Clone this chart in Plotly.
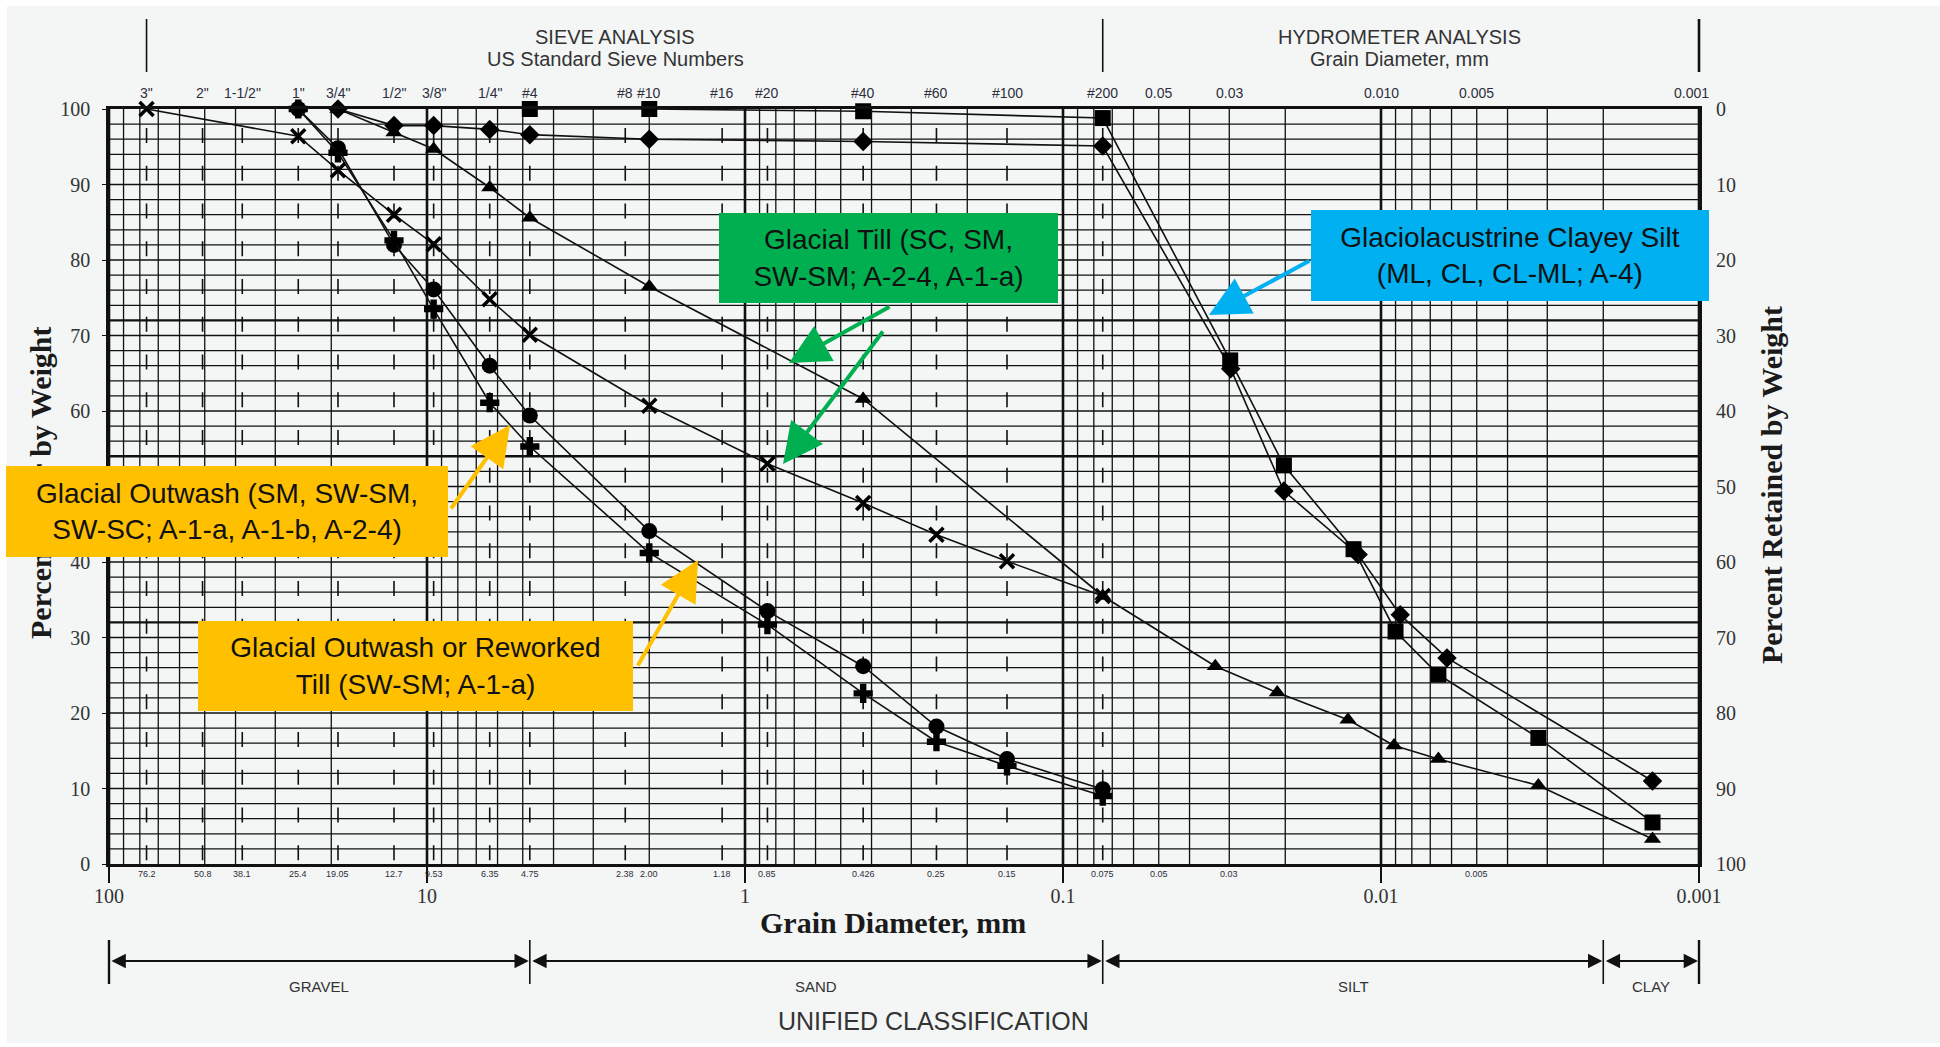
import math
import plotly.graph_objects as go

# ---------------- data ----------------
sieve_names = ['3"', '2"', '1-1/2"', '1"', '3/4"', '1/2"', '3/8"', '1/4"', '#4', '#8', '#10',
               '#16', '#20', '#40', '#60', '#100', '#200']
sieve_mm = [76.2, 50.8, 38.1, 25.4, 19.05, 12.7, 9.53, 6.35, 4.75, 2.38, 2.00,
            1.18, 0.85, 0.425, 0.25, 0.15, 0.075]
sieve_mm_text = ['76.2', '50.8', '38.1', '25.4', '19.05', '12.7', '9.53', '6.35', '4.75', '2.38', '2.00',
                 '1.18', '0.85', '0.426', '0.25', '0.15', '0.075']
hydro_top_mm = [0.05, 0.03, 0.01, 0.005, 0.001]
hydro_top_text = ['0.05', '0.03', '0.010', '0.005', '0.001']
hydro_bottom_mm = [0.05, 0.03, 0.005]
hydro_bottom_text = ['0.05', '0.03', '0.005']
decade_mm = [100, 10, 1, 0.1, 0.01, 0.001]
decade_text = ['100', '10', '1', '0.1', '0.01', '0.001']
pct_ticks = [0, 10, 20, 30, 40, 50, 60, 70, 80, 90, 100]
# the left "50" is hidden behind the outwash callout in the original
finer_text = ['0', '10', '20', '30', '40', '', '60', '70', '80', '90', '100']
retained_text = ['100', '90', '80', '70', '60', '50', '40', '30', '20', '10', '0']

class_names = ['GRAVEL', 'SAND', 'SILT', 'CLAY']
class_bounds_mm = [100, 4.75, 0.075, 0.002, 0.001]

# series (grain size mm, percent finer)
circle_mm = [25.4, 19.05, 12.7, 9.53, 6.35, 4.75, 2.00, 0.85, 0.425, 0.25, 0.15, 0.075]
circle_pct = [100, 94.8, 82.0, 76.1, 66.0, 59.4, 44.1, 33.5, 26.2, 18.2, 13.9, 9.9]

plus_mm = [25.4, 19.05, 12.7, 9.53, 6.35, 4.75, 2.00, 0.85, 0.425, 0.25, 0.15, 0.075]
plus_pct = [100, 94.2, 82.6, 73.5, 61.1, 55.3, 41.2, 31.7, 22.6, 16.2, 13.0, 9.0]

cross_mm = [76.2, 25.4, 19.05, 12.7, 9.53, 6.35, 4.75, 2.00, 0.85, 0.425, 0.25, 0.15, 0.075]
cross_pct = [100, 96.4, 91.9, 86.0, 82.1, 74.8, 70.1, 60.7, 53.0, 47.8, 43.6, 40.1, 35.5]

tri_mm = [19.05, 12.7, 9.53, 6.35, 4.75, 2.00, 0.425, 0.075, 0.0332, 0.0212, 0.0127, 0.0091,
          0.0066, 0.0032, 0.0014]
tri_pct = [100, 96.9, 94.7, 89.6, 85.6, 76.5, 61.6, 35.5, 26.2, 22.7, 19.1, 15.7, 13.9, 10.4, 3.3]

dia_mm = [19.05, 12.7, 9.53, 6.35, 4.75, 2.00, 0.425, 0.075, 0.0297, 0.0202, 0.0118, 0.0087,
          0.0062, 0.0014]
dia_pct = [100, 97.8, 97.8, 97.3, 96.6, 96.0, 95.7, 95.1, 65.6, 49.4, 41.0, 33.0, 27.3, 11.0]

sq_mm = [4.75, 2.00, 0.425, 0.075, 0.0298, 0.0202, 0.0122, 0.0090, 0.0066, 0.0032, 0.0014]
sq_pct = [100, 100, 99.7, 98.8, 66.7, 52.8, 41.7, 30.8, 25.1, 16.7, 5.5]

# ---------------- geometry helpers ----------------
W, H = 1940, 1047
PL, PR, PT, PB = 109, 1699, 109, 864
PW, PH = PR - PL, PB - PT
BG = '#f4f6f6'
INK = '#111111'


def px(xp):
    return (xp - PL) / PW


def py(yp):
    return (PB - yp) / PH


def fx(mm):
    return (2 - math.log10(mm)) / 5


fig = go.Figure()

# ---------------- grid ----------------
minor_x = [k * 10.0 ** e for e in range(-3, 2) for k in range(2, 10)]
major_x = [10.0 ** e for e in range(-3, 3)]
dashed_x = [v for v in sieve_mm if v not in minor_x and v not in major_x]
minor_y = [v for v in range(2, 100, 2) if v not in (32, 54, 72)]
major_y = [32, 54, 72]


def vl(vals, y0, y1):
    xs, ys = [], []
    for v in vals:
        xs += [v, v, None]
        ys += [y0, y1, None]
    return xs, ys


def hl(vals):
    xs, ys = [], []
    for v in vals:
        xs += [100, 0.001, None]
        ys += [v, v, None]
    return xs, ys


for (xs, ys), w, dash in [
    (vl(minor_x, 0, 100), 1.3, 'solid'),
    (vl(major_x, 0, 100), 2.6, 'solid'),
    (vl(dashed_x, 97.5, 0), 1.6, '15px,22.75px'),
    (hl(minor_y), 1.3, 'solid'),
    (hl(major_y), 2.4, 'solid'),
]:
    fig.add_trace(go.Scatter(x=xs, y=ys, mode='lines', line=dict(color=INK, width=w, dash=dash),
                             hoverinfo='skip', showlegend=False, connectgaps=False))

# ---------------- series ----------------
series = [
    (circle_mm, circle_pct, dict(symbol='circle', size=16, color='#000')),
    (plus_mm, plus_pct, dict(symbol='cross', size=16, color='#000')),
    (cross_mm, cross_pct, dict(symbol='x-thin', size=14, color='#000', line=dict(width=3.5, color='#000'))),
    (tri_mm, tri_pct, dict(symbol='triangle-up', size=15, color='#000')),
    (dia_mm, dia_pct, dict(symbol='diamond', size=15, color='#000')),
    (sq_mm, sq_pct, dict(symbol='square', size=16, color='#000')),
]
for xs, ys, mk in series:
    fig.add_trace(go.Scatter(x=xs, y=ys, mode='lines+markers', line=dict(color=INK, width=1.6),
                             marker=mk, showlegend=False, cliponaxis=False))

# invisible trace for right axis
fig.add_trace(go.Scatter(x=[1], y=[50], yaxis='y2', mode='markers', marker=dict(opacity=0),
                         hoverinfo='skip', showlegend=False))

# ---------------- annotations ----------------
ann = []
SANS = 'Liberation Sans, Arial, sans-serif'
SERIF = 'Liberation Serif, Times New Roman, serif'
LBL = '#2e2e3c'

for name, v in zip(sieve_names, sieve_mm):
    ann.append(dict(x=fx(v), y=py(93), xref='paper', yref='paper', text=name, showarrow=False,
                    font=dict(family=SANS, size=14, color=LBL), xanchor='center', yanchor='middle'))
for name, v in zip(hydro_top_text, hydro_top_mm):
    ann.append(dict(x=fx(v) - (0.005 if v == 0.001 else 0), y=py(93), xref='paper', yref='paper', text=name,
                    showarrow=False, font=dict(family=SANS, size=14, color=LBL),
                    xanchor='center', yanchor='middle'))
for name, v in zip(sieve_mm_text, sieve_mm):
    ann.append(dict(x=fx(v), y=py(874), xref='paper', yref='paper', text=name, showarrow=False,
                    font=dict(family=SANS, size=9, color=LBL), xanchor='center', yanchor='middle'))
for name, v in zip(hydro_bottom_text, hydro_bottom_mm):
    ann.append(dict(x=fx(v), y=py(874), xref='paper', yref='paper', text=name, showarrow=False,
                    font=dict(family=SANS, size=9, color=LBL), xanchor='center', yanchor='middle'))

# headers
for text, xx, yy in [('SIEVE ANALYSIS', 615, 37), ('US Standard Sieve Numbers', 615, 59),
                     ('HYDROMETER ANALYSIS', 1399, 37), ('Grain Diameter, mm', 1399, 59)]:
    ann.append(dict(x=px(xx), y=py(yy), xref='paper', yref='paper', text=text, showarrow=False,
                    font=dict(family=SANS, size=20, color='#333'), xanchor='center', yanchor='middle'))

# classification
for i, name in enumerate(class_names):
    a, b = class_bounds_mm[i], class_bounds_mm[i + 1]
    xa, xb = fx(a), fx(b)
    ann.append(dict(x=(xa + xb) / 2, y=py(986), xref='paper', yref='paper', text=name, showarrow=False,
                    font=dict(family=SANS, size=15, color='#333'), xanchor='center', yanchor='middle'))
    ann.append(dict(x=xb, y=py(961), xref='paper', yref='paper', text='', showarrow=True,
                    axref='pixel', ayref='pixel', ax=-(xb - xa) * PW, ay=0, arrowside='end+start',
                    arrowhead=2, arrowsize=1.3, arrowwidth=2.2, arrowcolor=INK, standoff=1, startstandoff=1))
ann.append(dict(x=px(933), y=py(1021), xref='paper', yref='paper', text='UNIFIED CLASSIFICATION',
                showarrow=False, font=dict(family=SANS, size=25, color='#333'),
                xanchor='center', yanchor='middle'))

# axis titles
TFONT = dict(family=SERIF, size=30, color='#1a1a1a', weight='bold')
ann.append(dict(x=px(40), y=py(483), xref='paper', yref='paper', text='Percent Finer by Weight',
                textangle=-90, showarrow=False, font=TFONT, xanchor='center', yanchor='middle'))
ann.append(dict(x=px(1771), y=py(485), xref='paper', yref='paper', text='Percent Retained by Weight',
                textangle=-90, showarrow=False, font=TFONT, xanchor='center', yanchor='middle'))
ann.append(dict(x=px(893), y=py(923), xref='paper', yref='paper', text='Grain Diameter, mm',
                showarrow=False, font=TFONT, xanchor='center', yanchor='middle'))

# callout boxes
BFONT = dict(family=SANS, size=28, color='#111')
boxes = [
    ('Glacial Till (SC, SM,<br>SW-SM; A-2-4, A-1-a)', '#00b050', 719, 1058, 213, 303),
    ('Glaciolacustrine Clayey Silt<br>(ML, CL, CL-ML; A-4)', '#00b0f0', 1311, 1709, 210, 301),
    ('Glacial Outwash (SM, SW-SM,<br>SW-SC; A-1-a, A-1-b, A-2-4)', '#ffc000', 6, 448, 466, 557),
    ('Glacial Outwash or Reworked<br>Till (SW-SM; A-1-a)', '#ffc000', 198, 633, 621, 711),
]
for text, col, x0, x1, y0, y1 in boxes:
    ann.append(dict(x=px(x0), y=py(y0), xref='paper', yref='paper', text=text, showarrow=False,
                    font=BFONT, bgcolor=col, width=x1 - x0, height=y1 - y0, borderpad=0, borderwidth=0,
                    xanchor='left', yanchor='top', align='center', valign='middle'))

arrows = [
    ('#00b050', 891, 306, 789, 363),
    ('#00b050', 884, 330, 783, 464),
    ('#00b0f0', 1311, 260, 1209, 315),
    ('#ffc000', 450, 510, 510, 425),
    ('#ffc000', 637, 667, 698, 560),
]
for col, tx, ty, hx, hy in arrows:
    ann.append(dict(x=px(hx), y=py(hy), xref='paper', yref='paper', text='', showarrow=True,
                    axref='pixel', ayref='pixel', ax=tx - hx, ay=ty - hy, arrowhead=2, arrowsize=2.0,
                    arrowwidth=4, arrowcolor=col, standoff=0))

# ---------------- shapes ----------------
shapes = [dict(type='rect', xref='paper', yref='paper', x0=px(7), x1=px(1945), y0=py(1043), y1=py(6),
               fillcolor=BG, line=dict(width=0), layer='below')]
for v, w in [(76.2, 1.6), (0.075, 1.6), (0.001, 2.6)]:
    shapes.append(dict(type='line', xref='paper', yref='paper', x0=fx(v), x1=fx(v), y0=py(72), y1=py(19),
                       line=dict(color=INK, width=w)))
for v in class_bounds_mm:
    w = 2.4 if v in (100, 0.001) else 1.6
    shapes.append(dict(type='line', xref='paper', yref='paper', x0=fx(v), x1=fx(v), y0=py(984), y1=py(940),
                       line=dict(color=INK, width=w)))

fig.update_layout(
    width=W, height=H,
    margin=dict(l=PL, r=W - PR, t=PT, b=H - PB, pad=0),
    paper_bgcolor='#ffffff', plot_bgcolor=BG,
    showlegend=False,
    xaxis=dict(type='log', range=[2, -3], showgrid=False, zeroline=False, showline=True, mirror=True,
               linecolor=INK, linewidth=2.6, ticks='outside', ticklen=16, tickwidth=2.4, tickcolor=INK,
               tickmode='array', tickvals=decade_mm, ticktext=decade_text, ticklabelstandoff=-4,
               tickfont=dict(family=SERIF, size=20, color='#333')),
    yaxis=dict(range=[0, 100], showgrid=False, zeroline=False, showline=True, mirror=True,
               linecolor=INK, linewidth=2.6, ticks='outside', ticklen=4, tickcolor=INK,
               tickmode='array', tickvals=pct_ticks, ticktext=finer_text, ticklabelstandoff=8,
               tickfont=dict(family=SERIF, size=20, color='#333')),
    yaxis2=dict(overlaying='y', side='right', range=[0, 100], showgrid=False, zeroline=False,
                showline=False, ticks='', tickmode='array', tickvals=pct_ticks, ticktext=retained_text,
                ticklabelstandoff=16, tickfont=dict(family=SERIF, size=20, color='#333')),
    annotations=ann,
    shapes=shapes,
)

fig.write_html("out.html", config={'displayModeBar': False},
               post_script="document.body.style.margin='0px';")
